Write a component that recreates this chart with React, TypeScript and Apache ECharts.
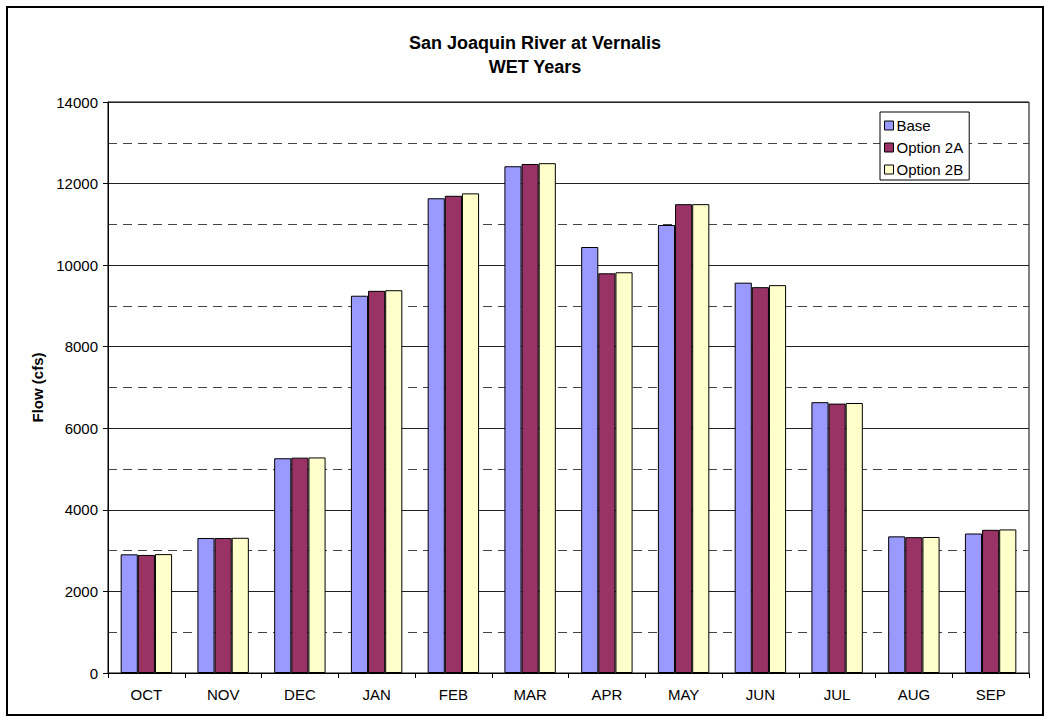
import React, { useEffect, useRef } from "react";
import * as echarts from "echarts";

const months = ["OCT", "NOV", "DEC", "JAN", "FEB", "MAR", "APR", "MAY", "JUN", "JUL", "AUG", "SEP"];
const baseFlow = [2910, 3310, 5265, 9250, 11640, 12425, 10445, 10985, 9570, 6640, 3350, 3420];
const option2A = [2895, 3310, 5280, 9370, 11700, 12480, 9800, 11495, 9460, 6605, 3330, 3510];
const option2B = [2915, 3315, 5285, 9385, 11760, 12500, 9825, 11495, 9510, 6620, 3335, 3520];
const seriesNames = ["Base", "Option 2A", "Option 2B"];
const seriesColors = ["#9999FF", "#993366", "#FFFFCC"];
const titleLines = ["San Joaquin River at Vernalis", "WET Years"];
const yAxisName = "Flow (cfs)";

const FONT = "Liberation Sans, Arial, sans-serif";

export default function App() {
  const ref = useRef<HTMLDivElement>(null);
  useEffect(() => {
    if (!ref.current) return;
    const chart = echarts.init(ref.current, null, { renderer: "svg" });
    const data = [baseFlow, option2A, option2B];
    chart.setOption({
      animation: false,
      backgroundColor: "#ffffff",
      textStyle: { fontFamily: FONT },
      graphic: [
        {
          type: "rect",
          shape: { x: 7, y: 7, width: 1036, height: 708 },
          style: { fill: "none", stroke: "#000", lineWidth: 2 },
          z: 100,
        },
        {
          type: "text",
          x: 535,
          y: 31,
          style: {
            text: titleLines.join("\n"),
            textAlign: "center",
            fontFamily: FONT,
            fontWeight: "bold",
            fontSize: 18,
            lineHeight: 24,
            fill: "#000",
          },
        },
      ],
      legend: {
        orient: "vertical",
        left: 880,
        top: 112,
        data: seriesNames,
        backgroundColor: "#fff",
        borderColor: "#000",
        borderWidth: 1,
        padding: [6, 6, 3, 4],
        itemWidth: 9,
        itemHeight: 9,
        itemGap: 7,
        icon: "rect",
        textStyle: { fontFamily: FONT, fontSize: 15, color: "#000", padding: [0, 0, 0, -2] },
        itemStyle: { borderColor: "#000", borderWidth: 1 },
      },
      grid: {
        left: 108,
        right: 22,
        top: 102,
        bottom: 50,
        show: true,
        borderColor: "#000",
        borderWidth: 1,
        backgroundColor: "transparent",
      },
      xAxis: {
        type: "category",
        data: months,
        axisLine: { lineStyle: { color: "#000", width: 1 } },
        axisTick: { show: true, interval: 0, length: 5, lineStyle: { color: "#000" } },
        axisLabel: { color: "#000", fontSize: 15, fontFamily: FONT, margin: 14, interval: 0 },
        splitLine: { show: false },
      },
      yAxis: {
        type: "value",
        min: 0,
        max: 14000,
        interval: 2000,
        name: yAxisName,
        nameLocation: "middle",
        nameRotate: 90,
        nameGap: 56,
        nameTextStyle: { fontFamily: FONT, fontWeight: "bold", fontSize: 15, color: "#000" },
        axisLine: { show: true, lineStyle: { color: "#000" } },
        axisTick: { show: true, length: 5, lineStyle: { color: "#000" } },
        axisLabel: {
          color: "#000",
          fontSize: 15,
          fontFamily: FONT,
          margin: 10,
          formatter: (v: number) => String(v),
        },
        splitLine: { show: true, lineStyle: { color: "#222", width: 1 } },
        minorTick: { show: false, splitNumber: 2 },
        minorSplitLine: { show: true, lineStyle: { color: "#444", type: [9, 6], width: 1 } },
      },
      series: seriesNames.map((name, i) => ({
        name,
        type: "bar",
        data: data[i],
        barGap: "0%",
        barCategoryGap: "33%",
        itemStyle: { color: seriesColors[i], borderColor: "#000", borderWidth: 1 },
      })),
    });
    return () => chart.dispose();
  }, []);
  return (
    <div style={{ position: "absolute", left: 0, top: 0, width: 1051, height: 723 }}>
      <div ref={ref} style={{ width: 1051, height: 723 }} />
    </div>
  );
}
